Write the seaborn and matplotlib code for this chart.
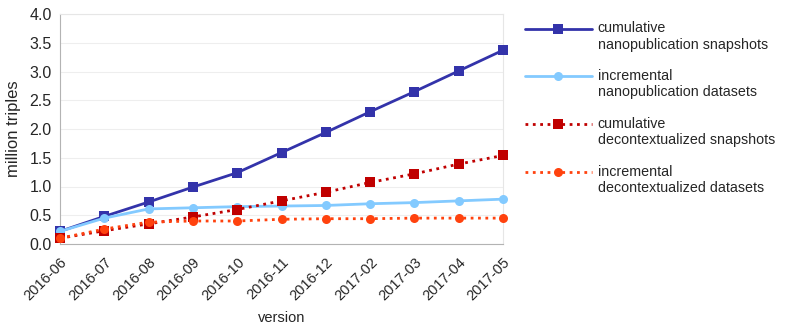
import matplotlib
matplotlib.use("Agg")
import matplotlib.pyplot as plt
import seaborn as sns
import pandas as pd

versions = ["2016-06", "2016-07", "2016-08", "2016-09", "2016-10", "2016-11",
            "2016-12", "2017-02", "2017-03", "2017-04", "2017-05"]
cum_nano = [0.22, 0.48, 0.73, 0.99, 1.24, 1.59, 1.94, 2.30, 2.65, 3.01, 3.37]
inc_nano = [0.22, 0.45, 0.61, 0.63, 0.65, 0.66, 0.67, 0.70, 0.72, 0.75, 0.78]
cum_decon = [0.10, 0.23, 0.35, 0.47, 0.60, 0.75, 0.90, 1.07, 1.22, 1.39, 1.54]
inc_decon = [0.10, 0.26, 0.38, 0.40, 0.40, 0.43, 0.44, 0.44, 0.45, 0.45, 0.45]

labels = ["cumulative\nnanopublication snapshots",
          "incremental\nnanopublication datasets",
          "cumulative\ndecontextualized snapshots",
          "incremental\ndecontextualized datasets"]

sns.set_style("white")
plt.rcParams['font.family'] = ['Liberation Sans', 'DejaVu Sans']

styles = [
    (cum_nano, "#3333aa", "s", "-"),
    (inc_nano, "#83caff", "o", "-"),
    (cum_decon, "#c00000", "s", ":"),
    (inc_decon, "#ff420e", "o", ":"),
]

fig = plt.figure(figsize=(7.89, 3.29), dpi=100)
ax = fig.add_axes([60 / 789, 1 - 244 / 329, 443 / 789, 230 / 329])

for (vals, color, marker, ls), lab in zip(styles, labels):
    df = pd.DataFrame({"version": versions, "value": vals})
    sns.lineplot(data=df, x="version", y="value", sort=False, ax=ax, color=color,
                 marker=marker, markersize=6.5, markeredgewidth=0, linestyle=ls,
                 linewidth=2, label=lab, clip_on=False, zorder=3)

ax.set_xlim(0, len(versions) - 1)
ax.set_ylim(0, 4.0)
ax.set_yticks([0, 0.5, 1.0, 1.5, 2.0, 2.5, 3.0, 3.5, 4.0])
ax.set_yticklabels([f"{v:.1f}" for v in ax.get_yticks()], fontsize=11.5)
ax.set_xticks(range(len(versions)))
ax.set_xticklabels(versions, rotation=45, ha="right", rotation_mode="anchor", fontsize=10.5)
ax.tick_params(axis="x", length=5, color="#b3b3b3", width=1, pad=3)
ax.tick_params(axis="y", length=3, color="#b3b3b3", width=1, pad=3)
ax.yaxis.grid(True, color="#eeeeee", linewidth=0.8)
ax.set_axisbelow(True)
for side in ["left", "bottom"]:
    ax.spines[side].set_color("#b3b3b3")
for side in ["top", "right"]:
    ax.spines[side].set_color("#e6e6e6")

ax.set_xlabel("version", fontsize=10.5, labelpad=6)
ax.set_ylabel("million triples", fontsize=12, labelpad=6)

leg = ax.legend(loc="upper left", bbox_to_anchor=(1.036, 0.993), frameon=False,
                handlelength=4.7, fontsize=10.3, labelspacing=1.23, borderaxespad=0,
                handletextpad=0.4)
# put each handle level with the first line of its two-line label
for h in leg.legend_handles:
    h.set_ydata([y + 6 for y in h.get_ydata()])

fig.savefig("out.png", dpi=100)
